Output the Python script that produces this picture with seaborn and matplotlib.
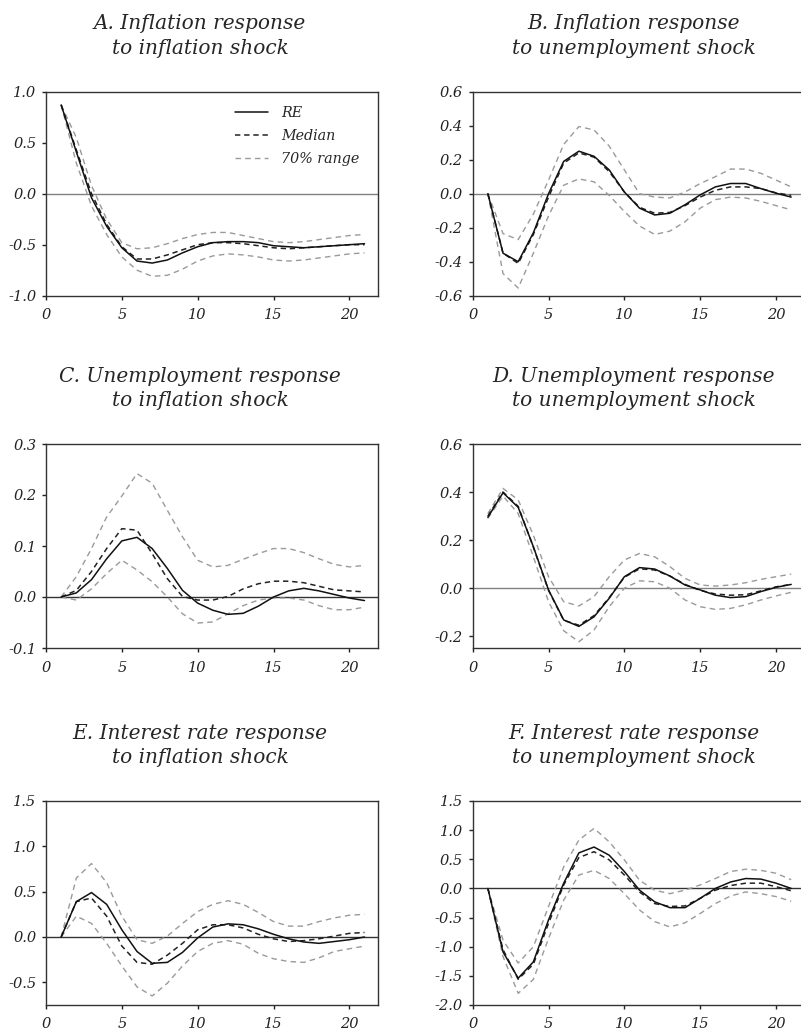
import numpy as np
import pandas as pd
import matplotlib
matplotlib.use('Agg')
import matplotlib.pyplot as plt
import seaborn as sns

sns.set_style('ticks')
plt.rcParams['font.family'] = ['DejaVu Serif']
plt.rcParams['font.style'] = 'italic'
plt.rcParams['axes.unicode_minus'] = False

periods = list(range(1, 22))

# A. inflation response to inflation shock
a_re = [0.87, 0.41, -0.04, -0.32, -0.53, -0.66, -0.68, -0.65, -0.58, -0.52, -0.48,
        -0.47, -0.47, -0.48, -0.51, -0.52, -0.53, -0.52, -0.51, -0.50, -0.49]
a_med = [0.87, 0.43, 0.0, -0.30, -0.52, -0.64, -0.64, -0.60, -0.55, -0.50, -0.48,
         -0.48, -0.49, -0.51, -0.53, -0.54, -0.53, -0.52, -0.51, -0.50, -0.50]
a_hi = [0.87, 0.55, 0.08, -0.25, -0.48, -0.54, -0.53, -0.49, -0.44, -0.40, -0.38,
        -0.38, -0.41, -0.44, -0.47, -0.48, -0.47, -0.45, -0.43, -0.41, -0.40]
a_lo = [0.87, 0.30, -0.12, -0.40, -0.62, -0.75, -0.81, -0.80, -0.74, -0.66, -0.61,
        -0.59, -0.60, -0.62, -0.65, -0.66, -0.65, -0.63, -0.61, -0.59, -0.58]

# B. inflation response to unemployment shock
b_re = [0.0, -0.35, -0.40, -0.23, 0.0, 0.19, 0.25, 0.22, 0.14, 0.01, -0.085,
        -0.125, -0.115, -0.065, -0.007, 0.04, 0.06, 0.06, 0.03, 0.003, -0.02]
b_med = [0.0, -0.35, -0.41, -0.24, -0.02, 0.18, 0.24, 0.215, 0.13, 0.01, -0.08,
         -0.115, -0.11, -0.07, -0.02, 0.02, 0.04, 0.04, 0.03, 0.005, -0.01]
b_hi = [0.0, -0.235, -0.27, -0.12, 0.08, 0.29, 0.395, 0.375, 0.28, 0.14, 0.0,
        -0.02, -0.025, 0.01, 0.06, 0.10, 0.145, 0.145, 0.12, 0.08, 0.04]
b_lo = [0.0, -0.47, -0.555, -0.35, -0.13, 0.05, 0.087, 0.07, -0.01, -0.105, -0.19,
        -0.24, -0.22, -0.165, -0.085, -0.035, -0.02, -0.025, -0.045, -0.07, -0.095]

# C. unemployment response to inflation shock
c_re = [0.0, 0.008, 0.034, 0.075, 0.11, 0.117, 0.095, 0.056, 0.013, -0.012, -0.026,
        -0.034, -0.032, -0.018, 0.0, 0.012, 0.017, 0.012, 0.005, -0.002, -0.007]
c_med = [0.0, 0.013, 0.05, 0.095, 0.134, 0.131, 0.085, 0.036, 0.001, -0.006, -0.006,
         0.001, 0.016, 0.026, 0.031, 0.031, 0.028, 0.021, 0.014, 0.012, 0.01]
c_hi = [0.0, 0.04, 0.095, 0.157, 0.198, 0.242, 0.223, 0.17, 0.118, 0.072, 0.059,
        0.062, 0.074, 0.085, 0.095, 0.095, 0.087, 0.075, 0.064, 0.059, 0.062]
c_lo = [0.0, -0.006, 0.016, 0.046, 0.072, 0.053, 0.03, 0.0, -0.033, -0.051, -0.049,
        -0.033, -0.017, -0.006, -0.002, -0.002, -0.006, -0.017, -0.025, -0.025, -0.02]

# D. unemployment response to unemployment shock
d_re = [0.295, 0.397, 0.336, 0.172, -0.008, -0.133, -0.16, -0.12, -0.043, 0.047, 0.085,
        0.079, 0.05, 0.0125, -0.008, -0.03, -0.04, -0.036, -0.015, 0.003, 0.015]
d_med = [0.30, 0.40, 0.34, 0.17, -0.01, -0.135, -0.155, -0.115, -0.04, 0.045, 0.08,
         0.075, 0.05, 0.015, -0.01, -0.025, -0.03, -0.028, -0.012, 0.005, 0.015]
d_hi = [0.31, 0.415, 0.367, 0.22, 0.047, -0.057, -0.075, -0.036, 0.047, 0.117, 0.144,
        0.13, 0.089, 0.04, 0.0125, 0.008, 0.0125, 0.022, 0.036, 0.047, 0.058]
d_lo = [0.29, 0.383, 0.31, 0.13, -0.057, -0.178, -0.224, -0.175, -0.078, -0.001, 0.03,
        0.026, -0.001, -0.05, -0.078, -0.089, -0.085, -0.07, -0.05, -0.033, -0.018]

# E. interest rate response to inflation shock
e_re = [0.0, 0.39, 0.49, 0.36, 0.08, -0.16, -0.29, -0.28, -0.17, -0.01, 0.11,
        0.145, 0.135, 0.09, 0.03, -0.02, -0.055, -0.07, -0.05, -0.03, 0.0]
e_med = [0.0, 0.39, 0.43, 0.23, -0.10, -0.28, -0.30, -0.20, -0.07, 0.08, 0.135,
         0.135, 0.10, 0.03, -0.02, -0.05, -0.04, -0.02, 0.01, 0.04, 0.05]
e_hi = [0.0, 0.65, 0.81, 0.60, 0.23, -0.03, -0.07, 0.01, 0.15, 0.28, 0.36,
        0.40, 0.36, 0.27, 0.17, 0.12, 0.12, 0.17, 0.21, 0.24, 0.25]
e_lo = [0.0, 0.23, 0.15, -0.07, -0.32, -0.55, -0.65, -0.51, -0.32, -0.16, -0.07,
        -0.04, -0.08, -0.18, -0.24, -0.27, -0.28, -0.23, -0.16, -0.13, -0.10]

# F. interest rate response to unemployment shock
f_re = [0.0, -1.09, -1.54, -1.26, -0.54, 0.09, 0.61, 0.71, 0.57, 0.29, -0.03,
        -0.23, -0.33, -0.33, -0.17, 0.0, 0.11, 0.17, 0.16, 0.09, 0.0]
f_med = [0.0, -1.05, -1.56, -1.30, -0.60, 0.06, 0.53, 0.63, 0.49, 0.23, -0.06,
         -0.26, -0.31, -0.30, -0.17, -0.03, 0.05, 0.09, 0.09, 0.03, -0.04]
f_hi = [0.0, -0.89, -1.28, -1.00, -0.31, 0.37, 0.83, 1.03, 0.80, 0.49, 0.14,
        -0.03, -0.09, -0.03, 0.06, 0.17, 0.29, 0.33, 0.31, 0.26, 0.15]
f_lo = [0.0, -1.17, -1.80, -1.56, -0.86, -0.20, 0.23, 0.31, 0.17, -0.09, -0.37,
        -0.57, -0.66, -0.59, -0.43, -0.26, -0.13, -0.06, -0.09, -0.14, -0.22]

titles = ['A. Inflation response\nto inflation shock',
          'B. Inflation response\nto unemployment shock',
          'C. Unemployment response\nto inflation shock',
          'D. Unemployment response\nto unemployment shock',
          'E. Interest rate response\nto inflation shock',
          'F. Interest rate response\nto unemployment shock']
panel_data = [(a_re, a_med, a_lo, a_hi), (b_re, b_med, b_lo, b_hi),
              (c_re, c_med, c_lo, c_hi), (d_re, d_med, d_lo, d_hi),
              (e_re, e_med, e_lo, e_hi), (f_re, f_med, f_lo, f_hi)]
ylims = [(-1.0, 1.0), (-0.6, 0.6), (-0.1, 0.3), (-0.25, 0.6), (-0.75, 1.5), (-2.0, 1.5)]
yticks = [np.arange(-1.0, 1.01, 0.5), np.arange(-0.6, 0.61, 0.2), np.arange(-0.1, 0.31, 0.1),
          np.arange(-0.2, 0.61, 0.2), np.arange(-0.5, 1.51, 0.5), np.arange(-2.0, 1.51, 0.5)]
zero_colors = ['#808080', '#808080', '#333333', '#808080', '#333333', '#333333']

W, H = 801, 1034
fig = plt.figure(figsize=(W / 100, H / 100), dpi=100)
lefts = [46, 472.7]
tops = [91.7, 444, 801]
title_x = [200, 634]
aw, ah = 331.7, 204

for i, (ttl, (re, med, lo, hi)) in enumerate(zip(titles, panel_data)):
    row, col = divmod(i, 2)
    ax = fig.add_axes([lefts[col] / W, 1 - (tops[row] + ah) / H, aw / W, ah / H])
    ax.axhline(0, color=zero_colors[i], lw=1.0, zorder=1)
    sns.lineplot(x=periods, y=hi, ax=ax, color='#9a9a9a', lw=1.0, linestyle=(0, (4, 3)), label='70% range')
    sns.lineplot(x=periods, y=lo, ax=ax, color='#9a9a9a', lw=1.0, linestyle=(0, (4, 3)))
    sns.lineplot(x=periods, y=med, ax=ax, color='#222222', lw=1.1, linestyle=(0, (3.5, 2.5)), label='Median')
    sns.lineplot(x=periods, y=re, ax=ax, color='#111111', lw=1.1, label='RE')
    ax.set_xlim(0, 21.87)
    ax.set_ylim(*ylims[i])
    ax.set_xticks([0, 5, 10, 15, 20])
    ax.set_xticklabels(['0', '5', '10', '15', '20'], fontstyle='italic')
    ax.set_yticks(yticks[i])
    ax.set_yticklabels(['%.1f' % v for v in yticks[i]], fontstyle='italic')
    ax.tick_params(direction='out', length=3, width=1, labelsize=10.5, colors='#222222')
    ax.tick_params(axis='x', pad=6)
    ax.tick_params(axis='y', pad=4)
    for s in ax.spines.values():
        s.set_color('#333333')
        s.set_linewidth(1.0)
    ax.set_xlabel('')
    ax.set_ylabel('')
    if i == 0:
        h, l = ax.get_legend_handles_labels()
        order = [l.index('RE'), l.index('Median'), l.index('70% range')]
        ax.legend([h[k] for k in order], [l[k] for k in order], loc='upper right',
                  frameon=False, fontsize=10.3, handlelength=2.3, handletextpad=0.9,
                  labelspacing=0.62, borderpad=0, borderaxespad=0,
                  bbox_to_anchor=(0.945, 0.93))
    else:
        ax.get_legend().remove()
    fig.text(title_x[col] / W, 1 - (tops[row] - 34) / H, ttl, ha='center', va='bottom',
             fontsize=14.5, linespacing=1.35)

fig.savefig('out.png', dpi=100)
